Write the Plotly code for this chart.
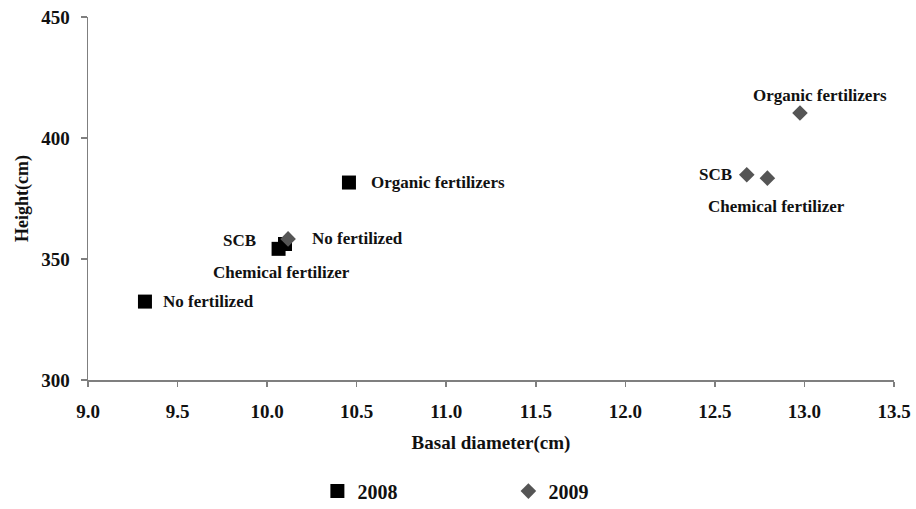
import plotly.graph_objects as go

# ---- data ----
treatments_2008 = ["No fertilized", "SCB", "Chemical fertilizer", "Organic fertilizers"]
diam_2008 = [9.318, 10.10, 10.064, 10.457]
height_2008 = [332.4, 356.2, 354.2, 381.6]

treatments_2009 = ["No fertilized", "SCB", "Chemical fertilizer", "Organic fertilizers"]
diam_2009 = [10.117, 12.678, 12.793, 12.975]
height_2009 = [358.3, 384.8, 383.4, 410.3]

x_ticks = [9.0, 9.5, 10.0, 10.5, 11.0, 11.5, 12.0, 12.5, 13.0, 13.5]
y_ticks = [300, 350, 400, 450]

FONT = "Liberation Serif"
AXC = "#7f7f7f"
TXT = "#111111"

fig = go.Figure()
fig.add_trace(go.Scatter(
    x=diam_2008, y=height_2008, mode="markers", name="2008",
    marker=dict(symbol="square", size=14, color="#000000"),
))
fig.add_trace(go.Scatter(
    x=diam_2009, y=height_2009, mode="markers", name="2009",
    marker=dict(symbol="diamond", size=12, color="#555555"),
))

# label placement (pixel offsets from each point)
place_2008 = {
    "No fertilized": dict(xanchor="left", xshift=16, yshift=0),
    "SCB": dict(xanchor="right", xshift=-27, yshift=4),
    "Chemical fertilizer": dict(xanchor="center", xshift=3, yshift=-24),
    "Organic fertilizers": dict(xanchor="left", xshift=20, yshift=0),
}
place_2009 = {
    "No fertilized": dict(xanchor="left", xshift=22, yshift=0),
    "SCB": dict(xanchor="right", xshift=-13, yshift=0),
    "Chemical fertilizer": dict(xanchor="center", xshift=9, yshift=-28),
    "Organic fertilizers": dict(xanchor="center", xshift=20, yshift=18),
}

annotations = []
for names, xs, ys, place in [(treatments_2008, diam_2008, height_2008, place_2008),
                             (treatments_2009, diam_2009, height_2009, place_2009)]:
    for n, xv, yv in zip(names, xs, ys):
        p = place[n]
        annotations.append(dict(
            x=xv, y=yv, xref="x", yref="y", text=n, showarrow=False,
            xanchor=p["xanchor"], yanchor="middle",
            xshift=p["xshift"], yshift=p["yshift"],
            font=dict(family=FONT, size=17, color=TXT, weight="bold"),
        ))

fig.update_layout(
    width=916, height=509,
    margin=dict(l=88, r=22, t=17, b=129, autoexpand=False),
    paper_bgcolor="white", plot_bgcolor="white",
    font=dict(family=FONT, size=17, color=TXT),
    showlegend=True,
    legend=dict(
        orientation="h", x=0.2846, xanchor="left", y=-0.306, yanchor="middle",
        entrywidth=146, entrywidthmode="pixels",
        font=dict(family=FONT, size=20, color=TXT, weight="bold"),
        bgcolor="rgba(0,0,0,0)",
    ),
    annotations=annotations,
    xaxis=dict(
        range=[9.0, 13.5], tickvals=x_ticks, ticktext=[f"{v:.1f}" for v in x_ticks],
        showgrid=False, zeroline=False, showline=True, linecolor=AXC, linewidth=1.5,
        ticks="outside", ticklen=5, tickcolor=AXC, tickwidth=1.5,
        ticklabelstandoff=9, automargin=False, ticklabeloverflow="allow",
        tickfont=dict(family=FONT, size=19, color=TXT, weight="bold"),
        title=dict(text="Basal diameter(cm)", standoff=14,
                   font=dict(family=FONT, size=19, color=TXT, weight="bold")),
    ),
    yaxis=dict(
        range=[300, 450], tickvals=y_ticks,
        showgrid=False, zeroline=False, showline=True, linecolor=AXC, linewidth=1.5,
        ticks="outside", ticklen=6, tickcolor=AXC, tickwidth=1.5,
        ticklabelstandoff=7, automargin=False, ticklabeloverflow="allow",
        tickfont=dict(family=FONT, size=19, color=TXT, weight="bold"),
        title=dict(text="Height(cm)", standoff=8,
                   font=dict(family=FONT, size=18, color=TXT, weight="bold")),
    ),
)

# remove the browser's default body margin so the figure fills the 916x509 window
fig.write_html(
    "out.html",
    config={"displayModeBar": False, "staticPlot": True},
    post_script="document.body.style.margin='0';document.body.style.overflow='hidden';",
)
